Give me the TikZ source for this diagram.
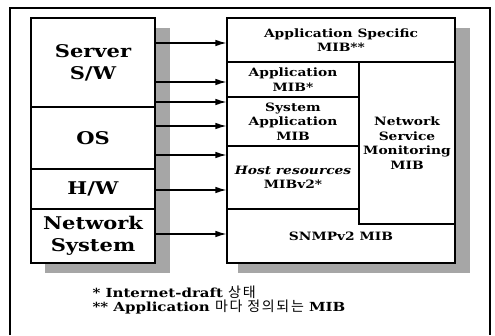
\documentclass[tikz,border=0pt]{standalone}
\usepackage{fontspec}
\setmainfont[FakeStretch=1.2]{DejaVu Serif}
\newfontfamily\kr[LetterSpace=12]{Noto Sans CJK KR}
\usetikzlibrary{arrows.meta,calc}

\begin{document}
\begin{tikzpicture}[x=1pt,y=-1pt,line width=1.1pt,>={Latex[length=11pt,width=6.5pt]},
  lbox/.style={rectangle, draw, fill=white, minimum width=124pt, inner sep=0pt, align=center, font=\fontsize{17.5}{22}\selectfont\bfseries},
  rbox/.style={rectangle, draw, fill=white, inner sep=0pt, align=center, font=\fontsize{11.5}{14.5}\selectfont\bfseries},
  shade/.style={fill=black!35, draw=none}]
\useasboundingbox (0,0) rectangle (495,335);
% frame, open at the bottom
\draw (10,335) -- (10,8) -- (490,8) -- (490,335);
% shadows
\fill[shade] (155,28) rectangle (170,273);
\fill[shade] (45,263) rectangle (170,273);
\fill[shade] (455,28) rectangle (470,273);
\fill[shade] (238,263) rectangle (470,273);
% left stack
\draw (93,62.5) node[lbox, minimum height=89pt] (srv) {Server\\S/W};
\draw (93,138) node[lbox, minimum height=62pt] (os) {OS};
\draw (93,189) node[lbox, minimum height=40pt] (hw) {H/W};
\draw (93,236) node[lbox, minimum height=54pt] (net) {Network\\System};
\node[inner sep=0pt, minimum width=124pt, minimum height=245pt] (left) at (93,140.5) {};
% right block
\draw (341,236) node[rbox, minimum width=228pt, minimum height=54pt] (snmp) {SNMPv2 MIB};
\draw (341,40) node[rbox, minimum width=228pt, minimum height=44pt] (appspec) {Application Specific\\MIB**};
\draw (293,79.5) node[rbox, minimum width=132pt, minimum height=35pt] (appmib) {Application\\MIB*};
\draw (293,121.5) node[rbox, minimum width=132pt, minimum height=49pt] (sysapp) {System\\Application\\MIB};
\draw (293,177.5) node[rbox, minimum width=132pt, minimum height=63pt] (host) {\textit{Host resources}\\MIBv2*};
\draw (407,143) node[rbox, minimum width=96pt, minimum height=162pt] (nsm) {Network\\Service\\Monitoring\\MIB};
\node[inner sep=0pt, minimum width=228pt, minimum height=245pt] (right) at (341,140.5) {};
% arrows
\foreach \y in {43,82,102,126,155,190,234}
  \draw[->] (left.east |- 0,\y) -- (right.west |- 0,\y);
% notes
\draw (92,300) node[anchor=west, align=left, inner sep=0pt, font=\fontsize{12.5}{14}\selectfont\bfseries] (note)
  {* Internet-draft {\kr\mdseries\fontsize{14}{14}\selectfont 상태}\\** Application {\kr\mdseries\fontsize{14}{14}\selectfont 마다 정의되는} MIB};
\end{tikzpicture}
\end{document}
